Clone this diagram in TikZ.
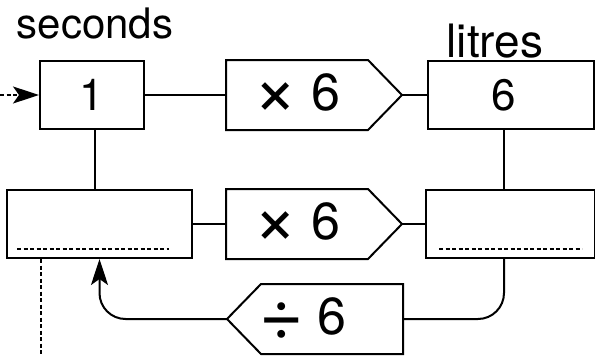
\documentclass[tikz,border=0pt]{standalone}
\usepackage{fontspec}
\setmainfont{TeX Gyre Heros}
\usetikzlibrary{arrows.meta,positioning}

\newcommand{\bigop}[1]{\raisebox{-5pt}{\fontsize{76}{76}\selectfont #1}}

\tikzset{
	box/.style={draw, minimum width=#1, minimum height=68pt, inner sep=0pt},
	opbody/.style={minimum width=140pt, minimum height=68pt, inner sep=0pt},
	numfont/.style={font=\fontsize{44}{48}\selectfont},
	opfont/.style={font=\fontsize{52}{56}\selectfont},
	unitfont/.style={font=\fontsize{42}{46}\selectfont, anchor=base, inner sep=0pt},
	dashline/.style={line width=1.6pt, dash pattern=on 4pt off 2.5pt},
	arrowhead/.style={arrows={-Stealth[length=26pt, width=17pt, inset=6pt]}},
}

\begin{document}
\begin{tikzpicture}[x=1pt, y=-1pt, line width=2pt]
	\useasboundingbox (0,0) rectangle (595,356);
	%Units above the two columns
	\node [unitfont] (seconds) at (95,38) {seconds};
	\node [unitfont, font=\fontsize{46}{50}\selectfont] (litres) at (495,57) {litres};
	%Top row
	\node [box=104pt, numfont] (sec) at (92,95) {1};
	\node [box=166pt] (lit) at (511,95) {};
	\node [numfont] (litnum) at (504,95) {6};
	\node [opbody, opfont] (mul1) at (297,95) {\bigop{×} 6};
	%Bottom row
	\node [box=185pt] (secb) at (99.5,224) {};
	\node [box=169pt] (litb) at (510.5,224) {};
	\node [opbody, opfont] (mul2) at (297,224) {\bigop{×} 6};
	%Operator arrows, pointing right
	\foreach \op in {mul1, mul2} {
		\draw (\op.north west) -- (\op.north east) -- ([xshift=34pt]\op.east) coordinate (\op tip)
			-- (\op.south east) -- (\op.south west) -- cycle;
	}
	%Operator arrow back, pointing left
	\node [opbody] (div) at (332,319) {};
	\node [opfont] (divtext) at (303,319) {\bigop{÷} 6};
	\draw (div.north east) -- (div.north west) -- ([xshift=-34pt]div.west) coordinate (divtip)
		-- (div.south west) -- (div.south east) -- cycle;
	%Blanks to fill in
	\draw [dashline] ([xshift=11pt, yshift=10pt]secb.south west) -- ([xshift=-24pt, yshift=10pt]secb.south east);
	\draw [dashline] ([xshift=14pt, yshift=10pt]litb.south west) -- ([xshift=-14pt, yshift=10pt]litb.south east);
	%Connectors
	\draw (sec.east) -- (mul1.west);
	\draw (mul1tip) -- (lit.west);
	\draw (secb.east) -- (mul2.west);
	\draw (mul2tip) -- (litb.west);
	\draw ([xshift=3pt]sec.south) -- ([xshift=3pt]sec.south |- secb.north);
	\draw ([xshift=-7pt]lit.south) -- ([xshift=-7pt]lit.south |- litb.north);
	\draw [rounded corners=26pt] ([xshift=-6.5pt]litb.south) |- (div.east);
	\draw [arrowhead, rounded corners=26pt] (divtip) -| (secb.south);
	%Dotted lead in and lead out
	\coordinate (in) at (0,95);
	\coordinate (out) at (41,356);
	\draw [dashline, arrowhead] (in) -- (sec.west);
	\draw [dashline, line width=2pt] (out |- secb.south) -- (out);
\end{tikzpicture}
\end{document}
